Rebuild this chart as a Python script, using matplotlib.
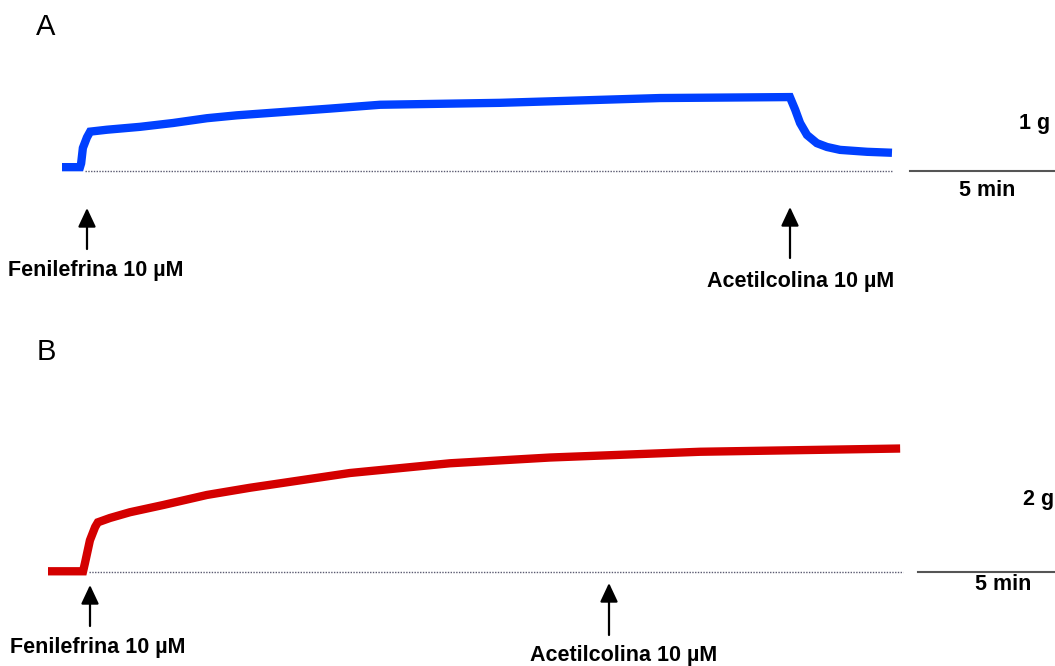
import matplotlib
matplotlib.use("Agg")
import matplotlib.pyplot as plt

plt.rcParams['font.family'] = ['Liberation Sans', 'DejaVu Sans']

# ---- Data: isometric tension traces (time in min, tension in g) ----
time_a = [0, 0.62, 0.66, 0.72, 0.86, 0.97, 1.55, 2.69, 3.83, 5.0, 6.03, 9.24,
          10.97, 15.1, 20.62, 25.1, 25.28, 25.45, 25.69, 26.03, 26.38, 26.83,
          27.76, 28.62]
tension_a = [0.04, 0.04, 0.08, 0.24, 0.35, 0.41, 0.43, 0.46, 0.50, 0.55, 0.58,
             0.65, 0.69, 0.71, 0.76, 0.77, 0.64, 0.50, 0.375, 0.29, 0.25, 0.22,
             0.20, 0.19]

time_b = [0, 1.28, 1.35, 1.53, 1.72, 1.82, 2.26, 2.99, 4.2, 5.8, 7.37, 11.02,
          14.67, 18.32, 23.8, 31.1]
tension_b = [0.01, 0.01, 0.125, 0.44, 0.625, 0.69, 0.75, 0.83, 0.93, 1.07,
             1.17, 1.375, 1.51, 1.59, 1.67, 1.715]

baseline_a = [0.79, 28.66]
baseline_b = [1.5, 31.2]
scalebar_a = [29.24, 34.24]   # 5 min
scalebar_b = [31.75, 36.75]   # 5 min

panel_labels = ["A", "B"]
drug_1 = "Fenilefrina 10 µM"
drug_2 = "Acetilcolina 10 µM"
time_scale = "5 min"
force_scale = ["1 g", "2 g"]

W, H = 1055, 666
fig = plt.figure(figsize=(W / 100, H / 100), dpi=100)


def px(x, y):
    return (x / W, 1 - y / H)


axA = fig.add_axes([0, 0.5, 1, 0.5])
axB = fig.add_axes([0, 0.0, 1, 0.5])
for ax in (axA, axB):
    ax.set_axis_off()

axA.set_xlim(-62 / 29, (W - 62) / 29)
axA.set_ylim((171 - 333) / 96, 171 / 96)
axB.set_xlim(-48 / 27.4, (W - 48) / 27.4)
axB.set_ylim((572 - 666) / 72, (572 - 333) / 72)

# traces
axA.plot(baseline_a, [0, 0], color='#5a5a70', lw=1.0, ls=(0, (1, 1)))
axA.plot(time_a, tension_a, color='#0040ff', lw=6, solid_capstyle='butt',
         solid_joinstyle='miter')
axA.plot(scalebar_a, [0, 0], color='#555555', lw=1.5, clip_on=False)

axB.plot(baseline_b, [0, 0], color='#5a5a70', lw=1.0, ls=(0, (1, 1)))
axB.plot(time_b, tension_b, color='#d40000', lw=6, solid_capstyle='butt',
         solid_joinstyle='miter')
axB.plot(scalebar_b, [0, 0], color='#555555', lw=1.5, clip_on=False)

# panel letters
fig.text(*px(46, 27), panel_labels[0], fontsize=21, ha='center', va='center')
fig.text(*px(46, 352), panel_labels[1], fontsize=21, ha='center', va='center')

# scale labels
bold = dict(fontsize=15.5, fontweight='bold', va='center')
fig.text(*px(987, 190), time_scale, ha='center', **bold)
fig.text(*px(1035, 123), force_scale[0], ha='center', **bold)
fig.text(*px(1003, 584), time_scale, ha='center', **bold)
fig.text(*px(1054, 500), force_scale[1], ha='right', **bold)


def arrow(x, ytop, ybot):
    fig.add_artist(matplotlib.patches.FancyArrowPatch(
        px(x, ybot), px(x, ytop), transform=fig.transFigure,
        arrowstyle='-|>,head_length=1.15,head_width=0.54', mutation_scale=10,
        color='black', lw=1.6, shrinkA=0, shrinkB=0))


arrow(87, 208, 249)
arrow(790, 207, 258)
arrow(90, 585, 626)
arrow(609, 583, 635)

fig.text(*px(96, 270), drug_1, ha='center', **bold)
fig.text(*px(801, 281), drug_2, ha='center', **bold)
fig.text(*px(98, 648), drug_1, ha='center', **bold)
fig.text(*px(624, 655), drug_2, ha='center', **bold)

fig.savefig("out.png", dpi=100, facecolor='white')
